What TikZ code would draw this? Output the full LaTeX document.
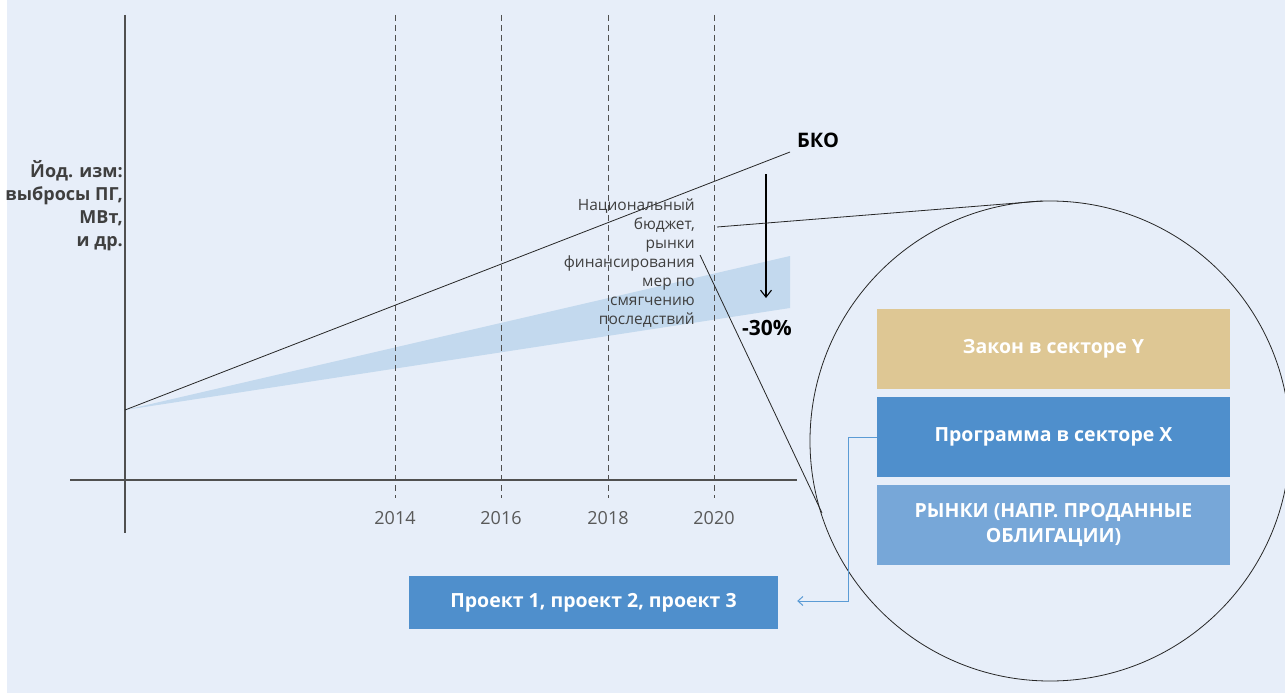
\documentclass[tikz,border=0pt]{standalone}
\usepackage{fontspec}
\setmainfont{Open Sans}
\usetikzlibrary{arrows.meta}
\definecolor{bgc}{HTML}{E7EEF9}
\definecolor{band}{HTML}{C3D9EE}
\definecolor{tan}{HTML}{DEC794}
\definecolor{midblue}{HTML}{4F8FCC}
\definecolor{liteblue}{HTML}{77A7D8}
\definecolor{conn}{HTML}{5B9BD5}
\definecolor{axisc}{HTML}{505050}
\definecolor{yearc}{HTML}{595959}
\definecolor{txtc}{HTML}{3F3F3F}
\begin{document}
\begin{tikzpicture}[x=1pt,y=-1pt,
  thinline/.style={draw=black!85, line width=0.8pt},
  axisline/.style={draw=axisc, line width=1.2pt},
  grid/.style={draw=axisc, line width=0.7pt, dash pattern=on 6pt off 4pt},
  year/.style={font=\fontsize{18}{20}\selectfont, text=yearc},
  box/.style={minimum width=353pt, minimum height=80pt, inner sep=2pt, text=white, align=center, font=\fontsize{19.5}{25}\selectfont\bfseries},
  lbl/.style={align=right, text=txtc, font=\fontsize{15.5}{19}\selectfont},
]
\useasboundingbox (0,0) rectangle (1285,693);
\fill[white] (0,0) rectangle (1285,693);
\fill[bgc] (7,0) rectangle (1285,693);
\clip (0,0) rectangle (1285,693);

% band
\coordinate (o) at (125,410);
\fill[band] (o) -- (790,256) -- (790,308) -- cycle;

% grid
\foreach \x/\y in {395/2014, 501/2016, 608/2018, 714/2020}{
  \draw[grid] (\x,15) -- (\x,498);
  \node[year] (y\y) at (\x,518) {\y};
}

% axes
\coordinate (ytop) at (125,15);
\coordinate (ybot) at (125,533);
\coordinate (xl) at (70,480);
\coordinate (xr) at (797,480);
\draw[axisline] (ytop) -- (ybot);
\draw[axisline] (xl) -- (xr);

% BKO line
\coordinate (bkoend) at (790,152);
\draw[thinline] (o) -- (bkoend);
\node[font=\fontsize{20}{22}\selectfont\bfseries, anchor=west, inner sep=0pt] (bko) at (797,140) {БКО};

% arrow
\coordinate (as) at (766,174);
\coordinate (ae) at (766,298);
\draw[line width=1.1pt, -{Straight Barb[length=7pt,width=11pt]}] (as) -- (ae);
\node[font=\fontsize{21}{24}\selectfont\bfseries] (pct) at (767,328) {-30\%};

% y label
\node[align=right, anchor=north east, font=\fontsize{18}{23}\selectfont\bfseries, text=txtc, inner sep=0pt] (ylab) at (123,160)
 {Йод. изм:\\выбросы ПГ,\\МВт,\\и др.};

% national budget text
\node[lbl, anchor=north east, inner sep=0pt] (nb) at (695,199)
 {Национальный\\бюджет,\\рынки\\финансирования\\мер по\\смягчению\\последствий};

% circle
\coordinate (c) at (1050,441);
\draw[thinline] (c) circle[radius=240];
\coordinate (t1) at (717,227);
\coordinate (t2) at (1042,201);
\coordinate (s1) at (700,255);
\coordinate (s2) at (822,513);
\draw[thinline] (t1) -- (t2);
\draw[thinline] (s1) -- (s2);

% boxes
\node[box, fill=tan] (zakon) at (1053.5,349) {Закон в секторе Y};
\node[box, fill=midblue] (prog) at (1053.5,437) {Программа в секторе X};
\node[box, fill=liteblue] (rynki) at (1053.5,525) {РЫНКИ (НАПР. ПРОДАННЫЕ\\ОБЛИГАЦИИ)};
\node[box, fill=midblue, minimum width=369pt, minimum height=53pt] (proj) at (593.5,602.5) {Проект 1, проект 2, проект 3};

% connector
\draw[conn, line width=1pt, -{Straight Barb[length=5pt,width=9pt]}] (prog.west) -- (848,437) -- (848,601) -- ([xshift=19pt]proj.east |- 0,601);
\end{tikzpicture}
\end{document}
